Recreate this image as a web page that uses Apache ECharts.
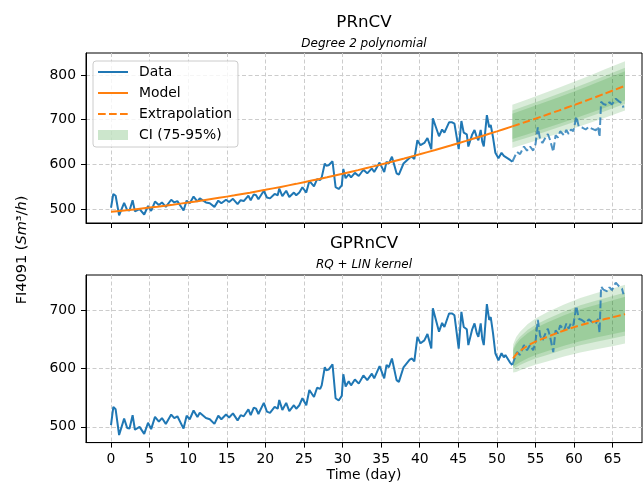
<!DOCTYPE html>
<html><head><meta charset="utf-8">
<script src="https://cdn.jsdelivr.net/npm/echarts@6/dist/echarts.min.js"></script>
<style>html,body{margin:0;padding:0;background:#fff}#c{width:643px;height:484px}</style>
</head><body><div id="c"></div>
<script>
// ---- data ----
const trainDays = [0,0.3,0.6,1.05,1.7,2.1,2.4,2.8,3.1,3.7,4.3,4.8,5.2,5.7,6.2,6.6,7.1,7.8,8.2,8.6,9.4,9.8,10.2,10.7,11.2,11.5,12.3,12.8,13.4,13.9,14.3,14.9,15.3,15.8,16.4,16.8,17.2,17.8,18.1,18.5,18.8,19.1,19.8,20.2,20.6,21.2,21.6,21.8,22.2,22.7,23.1,23.7,24.0,24.4,24.8,25.3,25.7,26.3,26.7,27.1,27.3,27.7,27.9,28.2,28.7,29.1,29.5,29.9,30.1,30.4,30.8,31.1,31.6,32.1,32.7,33.2,33.8,34.1,34.8,35.4,35.7,36.0,36.4,37.0,37.3,37.9,38.1,38.7,39.0,39.3,39.7,40.1,40.6,41.0,41.5,41.7,42.1,42.5,42.9,43.2,43.8,44.2,44.5,45.05,45.4,45.7,46.1,46.3,46.8,47.1,47.4,47.6,47.9,48.1,48.3,48.7,49.0,49.2,49.5,49.8,50.2,50.6,50.9,51.1,51.7,52.0];
const trainVals = [503,534,530,486,514,498,497,520,495,500,488,507,496,517,509,515,505,521,515,518,497,519,513,528,517,524,515,513,505,519,513,521,516,523,511,520,518,530,520,533,531,522,541,526,524,534,531,546,529,541,527,537,531,537,549,537,563,551,567,565,571,602,597,598,607,549,545,553,590,569,578,571,581,574,588,580,591,583,604,583,606,602,617,580,577,602,599,615,617,612,654,643,648,659,634,703,683,663,678,671,694,694,691,634,697,671,667,640,667,677,660,654,677,651,640,710,683,688,660,626,614,626,619,623,610,606];
const testDays = [52.0,52.3,52.6,53.0,53.5,53.9,54.3,54.7,55.0,55.3,55.6,55.9,56.3,56.6,56.9,57.3,57.6,57.9,58.2,58.7,59.0,59.3,59.6,59.9,60.3,60.6,61.0,61.5,61.9,62.3,62.8,63.1,63.3,63.5,63.8,64.3,64.6,64.9,65.4,65.8,66.2,66.4];
const testVals = [606,617,628,623,640,631,640,631,645,683,656,648,660,668,654,628,665,660,674,665,677,668,678,674,707,685,683,678,684,680,676,685,661,740,735,732,739,734,747,741,737,727];

// PRnCV: degree 2 polynomial model (fit part) and extrapolation
const polyDays = [0,2,4,6,8,10,12,14,16,18,20,22,24,26,28,30,32,34,36,38,40,42,44,46,48,50,52];
const polyVals = [494,497.5,501.4,505.5,510,514.7,519.8,525.2,530.8,536.8,543.1,549.7,556.5,563.8,571.3,579.1,587.2,595.6,604.3,613.3,622.7,632.3,642.2,652.5,663,673.9,685];
const polyExtDays = [52,54,56,58,60,62,64,66.6];
const polyExtVals = [685,696.5,708.2,720.3,732.7,745.4,758.4,775.7];
const polyHw95 = [48.5,49.3,50,51,52,53,54,55];

// GPRnCV: extrapolation and 95% half-width
const gpDays = [52.1,52.5,53.0,54.0,55.0,56.5,58.7,60.8,62.9,65.1,66.6];
const gpVals = [617,624,630,639,646,654,665,674,681,688,693];
const gpHw95 = [24,30,33,37,39.5,42,44.5,46.5,48,49.5,50.5];

const ciLevels = [75,85,95];
const ciZ = [1.150,1.440,1.960];

const xTicks = [0,5,10,15,20,25,30,35,40,45,50,55,60,65];
const yTicksTop = [500,600,700,800];
const yTicksBottom = [500,600,700];

// ---- chart ----
const FONT = 'DejaVu Sans';
const pairs = (xs, ys) => xs.map((x, i) => [x, ys[i]]);
const chart = echarts.init(document.getElementById('c'), null, {renderer: 'canvas'});

function band(g, days, center, hw, k, name) {
  return {
    type: 'custom', name: name, xAxisIndex: g, yAxisIndex: g, z: 1, silent: true, clip: true,
    itemStyle: {color: 'rgba(0,128,0,0.2)'},
    data: [[days[0], center[0]]],
    encode: {x: 0, y: 1},
    renderItem: function (params, api) {
      const pts = [];
      for (let i = 0; i < days.length; i++) pts.push(api.coord([days[i], center[i] + k * hw[i]]));
      for (let i = days.length - 1; i >= 0; i--) pts.push(api.coord([days[i], center[i] - k * hw[i]]));
      return {type: 'polygon', shape: {points: pts}, style: {fill: 'rgba(0,128,0,0.15)'}};
    }
  };
}

function xAxis(g) {
  return {
    type: 'value', gridIndex: g, min: -3.24, max: 68.8,
    axisLine: {show: true, onZero: false, lineStyle: {color: '#000', width: 1}},
    axisTick: {show: true, length: 5, lineStyle: {color: '#000', width: 1}, customValues: xTicks},
    axisLabel: {show: g === 1, customValues: xTicks, margin: 10, fontSize: 13.9, fontFamily: FONT, color: '#000'},
    splitLine: {show: true, lineStyle: {color: '#cccccc', type: [4, 2.5], width: 1}},
    name: g === 1 ? 'Time (day)' : '', nameLocation: 'middle', nameGap: 26,
    nameTextStyle: {fontSize: 13.9, fontFamily: FONT, color: '#000'}
  };
}
function yAxis(g, min, max, ticks) {
  return {
    type: 'value', gridIndex: g, min: min, max: max,
    axisLine: {show: true, onZero: false, lineStyle: {color: '#000', width: 1}},
    axisTick: {show: true, length: 5, lineStyle: {color: '#000', width: 1}, customValues: ticks},
    axisLabel: {customValues: ticks, margin: 10, fontSize: 13.9, fontFamily: FONT, color: '#000'},
    splitLine: {show: true, lineStyle: {color: '#cccccc', type: [4, 2.5], width: 1}}
  };
}

const series = [];
ciLevels.forEach((lvl, i) => series.push(band(0, polyExtDays, polyExtVals, polyHw95, ciZ[i] / 1.96, i === 0 ? 'CI (75-95%)' : 'ci' + lvl)));
ciLevels.forEach((lvl, i) => series.push(band(1, gpDays, gpVals, gpHw95, ciZ[i] / 1.96, 'gpci' + lvl)));

const blue = '#1f77b4', orange = '#ff7f0e';
[0, 1].forEach(g => {
  series.push({type: 'line', name: g === 0 ? 'Data' : 'Data2', xAxisIndex: g, yAxisIndex: g, z: 3,
    data: pairs(trainDays, trainVals), symbol: 'none', showSymbol: false,
    lineStyle: {color: blue, width: 2}, itemStyle: {color: blue}});
  series.push({type: 'line', name: 'Test' + g, xAxisIndex: g, yAxisIndex: g, z: 3,
    data: pairs(testDays, testVals), symbol: 'none', showSymbol: false,
    lineStyle: {color: blue, width: 2, type: [7.7, 3.3], opacity: 0.8}, itemStyle: {color: blue}});
});
series.push({type: 'line', name: 'Model', xAxisIndex: 0, yAxisIndex: 0, z: 4,
  data: pairs(polyDays, polyVals), symbol: 'none', showSymbol: false, smooth: 0.3,
  lineStyle: {color: orange, width: 2}, itemStyle: {color: orange}});
series.push({type: 'line', name: 'Extrapolation', xAxisIndex: 0, yAxisIndex: 0, z: 4,
  data: pairs(polyExtDays, polyExtVals), symbol: 'none', showSymbol: false, smooth: 0.3,
  lineStyle: {color: orange, width: 2, type: [7.7, 3.3]}, itemStyle: {color: orange}});
series.push({type: 'line', name: 'Extrapolation2', xAxisIndex: 1, yAxisIndex: 1, z: 4,
  data: pairs(gpDays, gpVals), symbol: 'none', showSymbol: false, smooth: 0.4,
  lineStyle: {color: orange, width: 2, type: [7.7, 3.3]}, itemStyle: {color: orange}});

chart.setOption({
  animation: false,
  backgroundColor: '#fff',
  textStyle: {fontFamily: FONT},
  grid: [
    {left: 86, width: 556, top: 53, height: 170, show: true, borderColor: '#000', borderWidth: 1, backgroundColor: 'transparent'},
    {left: 86, width: 556, top: 275, height: 167.6, show: true, borderColor: '#000', borderWidth: 1, backgroundColor: 'transparent'}
  ],
  xAxis: [xAxis(0), xAxis(1)],
  yAxis: [yAxis(0, 469, 849, yTicksTop), yAxis(1, 473, 760, yTicksBottom)],
  legend: {
    orient: 'vertical', left: 93, top: 61, itemWidth: 30, itemHeight: 10, itemGap: 7,
    padding: [4, 6, 5, 4], backgroundColor: 'rgba(255,255,255,0.8)', borderColor: '#cccccc',
    borderWidth: 1, borderRadius: 3, selectedMode: false,
    textStyle: {fontFamily: FONT, fontSize: 13.9, color: '#000', lineHeight: 14, padding: [0, 0, 0, 6]},
    data: [{name: 'Data', itemStyle: {opacity: 0}}, {name: 'Model', itemStyle: {opacity: 0}},
      {name: 'Extrapolation', itemStyle: {opacity: 0}},
      {name: 'CI (75-95%)', icon: 'rect', itemStyle: {color: 'rgba(0,128,0,0.2)', opacity: 1}}]
  },
  graphic: [
    {type: 'text', x: 364, y: 23, style: {text: 'PRnCV', fontFamily: FONT, fontSize: 16.7, fill: '#000', align: 'center', verticalAlign: 'middle'}},
    {type: 'text', x: 364, y: 44, style: {text: 'Degree 2 polynomial', fontFamily: FONT, fontStyle: 'italic', fontSize: 12, fill: '#000', align: 'center', verticalAlign: 'middle'}},
    {type: 'text', x: 364, y: 244, style: {text: 'GPRnCV', fontFamily: FONT, fontSize: 16.7, fill: '#000', align: 'center', verticalAlign: 'middle'}},
    {type: 'text', x: 364, y: 265, style: {text: 'RQ + LIN kernel', fontFamily: FONT, fontStyle: 'italic', fontSize: 12, fill: '#000', align: 'center', verticalAlign: 'middle'}},
    {type: 'text', x: 22, y: 250, rotation: Math.PI / 2, style: {
      text: '{n|FI4091 (}{i|Sm}{n|³/}{i|h}{n|)}', align: 'center', verticalAlign: 'middle',
      rich: {n: {fontFamily: FONT, fontSize: 14.5, fill: '#000'}, i: {fontFamily: FONT, fontStyle: 'italic', fontSize: 14.5, fill: '#000'}}}}
  ],
  series: series
});
</script></body></html>
